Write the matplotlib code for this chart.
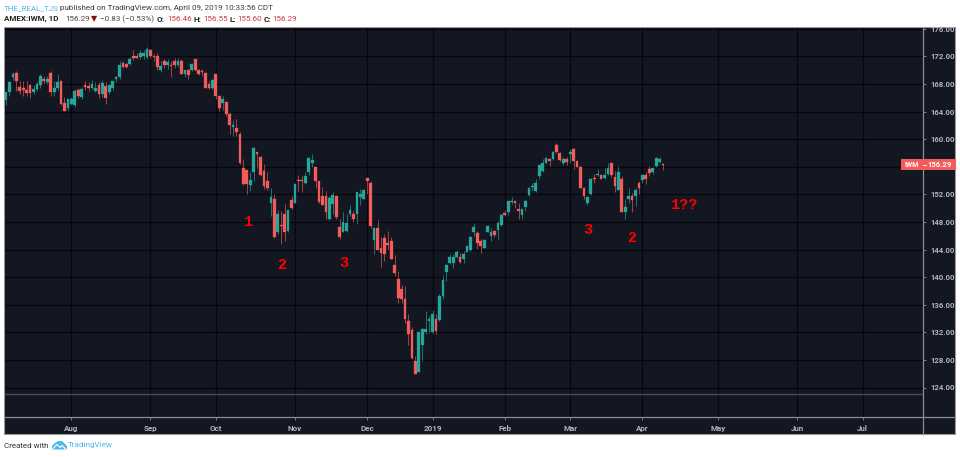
import matplotlib
matplotlib.use('Agg')
import matplotlib.pyplot as plt
from matplotlib.patches import Rectangle, Polygon

# prix, une bougie par seance
opens = [165.7, 166.9, 169.0, 169.6, 167.6, 167.4, 167.1, 167.8, 166.8, 167.3,
         167.8, 168.8, 168.3, 169.6, 166.8, 167.4, 168.5, 165.2, 164.5, 165.1,
         164.9, 167.2, 166.1, 167.9, 167.7, 167.4, 167.0, 167.8, 166.6, 167.7,
         166.8, 167.4, 168.8, 169.0, 171.0, 170.9, 170.9, 172.1, 172.0, 171.9,
         172.0, 171.9, 172.9, 172.1, 172.1, 170.1, 171.3, 170.7, 170.7, 171.3,
         170.7, 171.4, 169.5, 170.0, 170.0, 171.6, 170.0, 169.8, 169.6, 168.0,
         167.4, 169.4, 166.2, 165.2, 165.4, 163.7, 161.8, 161.6, 160.8, 155.8,
         155.5, 153.3, 155.2, 158.2, 157.4, 155.4, 154.0, 150.8, 151.4, 146.6,
         147.6, 149.1, 146.7, 151.2, 150.8, 154.1, 154.0, 153.6, 155.3, 156.6,
         156.0, 154.0, 151.7, 151.7, 148.4, 150.6, 151.7, 147.3, 146.6, 146.7,
         149.2, 149.1, 149.2, 151.6, 151.4, 154.4, 153.7, 145.4, 147.1, 144.2,
         145.7, 145.0, 145.3, 141.7, 139.8, 138.3, 136.9, 133.7, 132.4, 127.8,
         126.3, 130.2, 132.0, 133.7, 132.1, 134.0, 133.8, 137.3, 140.8, 142.1,
         142.0, 142.9, 142.9, 142.6, 143.7, 143.9, 146.5, 146.4, 145.3, 144.3,
         146.6, 145.9, 146.7, 146.9, 147.5, 149.3, 149.4, 150.9, 151.0, 149.9,
         149.0, 150.2, 151.9, 153.1, 152.5, 154.7, 155.4, 156.6, 157.1, 157.2,
         159.1, 158.0, 156.5, 157.1, 157.8, 158.6, 156.9, 156.0, 153.0, 150.7,
         152.0, 154.4, 154.8, 154.8, 154.4, 154.9, 156.5, 154.5, 152.7, 154.3,
         149.5, 151.4, 151.8, 151.7, 153.7, 154.1, 154.8, 155.7, 155.2, 156.1,
         156.7, 156.46]
closes = [166.8, 168.3, 169.4, 168.4, 167.0, 167.1, 166.7, 166.7, 167.3, 168.0,
          169.2, 168.4, 168.8, 166.8, 167.4, 168.3, 165.1, 164.1, 165.8, 165.8,
          167.0, 166.3, 167.3, 167.6, 167.5, 168.0, 167.4, 166.5, 168.1, 166.0,
          167.8, 168.4, 169.0, 170.8, 170.5, 170.5, 171.7, 171.8, 171.8, 172.5,
          172.5, 173.1, 172.1, 171.9, 170.5, 170.6, 170.7, 171.2, 170.6, 170.7,
          171.4, 169.5, 170.0, 169.3, 170.9, 170.0, 169.4, 169.7, 167.5, 167.5,
          168.6, 166.2, 164.5, 165.9, 163.6, 162.1, 162.1, 161.1, 156.5, 153.5,
          153.5, 154.1, 158.7, 157.8, 154.8, 153.2, 153.0, 151.6, 145.8, 149.1,
          147.4, 146.6, 149.7, 150.0, 153.5, 154.0, 153.9, 154.7, 157.3, 157.0,
          154.0, 150.9, 150.5, 149.4, 151.5, 151.9, 148.7, 145.8, 148.0, 147.9,
          149.8, 148.5, 152.3, 152.0, 152.6, 154.0, 147.4, 147.2, 144.0, 143.5,
          143.3, 144.7, 142.7, 140.6, 137.0, 136.8, 133.9, 131.8, 128.3, 125.9,
          132.0, 132.5, 132.5, 134.0, 134.7, 132.2, 137.3, 139.6, 141.7, 142.9,
          142.9, 143.7, 142.2, 143.4, 144.5, 145.8, 147.3, 144.9, 144.5, 145.4,
          147.4, 146.6, 146.1, 147.9, 149.0, 149.0, 151.0, 151.0, 150.8, 149.6,
          149.9, 151.1, 153.0, 153.2, 153.7, 156.2, 156.5, 157.3, 156.8, 158.1,
          158.1, 157.0, 157.2, 156.7, 158.2, 156.8, 156.0, 153.0, 151.7, 151.6,
          154.3, 154.3, 155.0, 154.3, 154.8, 155.8, 154.8, 153.2, 155.3, 149.5,
          150.2, 151.8, 151.2, 152.7, 153.0, 154.8, 154.2, 155.1, 155.9, 157.3,
          157.1, 156.29]
highs = [166.9, 168.5, 169.7, 169.9, 168.5, 168.5, 168.5, 168.0, 167.9, 168.3,
         169.4, 169.2, 169.2, 169.9, 168.5, 169.4, 168.6, 166.1, 165.9, 166.1,
         167.3, 167.4, 167.6, 168.5, 168.3, 168.6, 168.3, 168.3, 168.6, 168.3,
         168.0, 168.5, 169.1, 171.4, 171.3, 171.0, 171.9, 172.9, 172.5, 172.9,
         173.0, 173.4, 173.1, 172.4, 172.5, 171.4, 171.7, 171.6, 171.3, 171.8,
         171.8, 171.6, 169.8, 170.2, 171.1, 171.7, 170.2, 170.2, 169.7, 168.4,
         168.7, 169.5, 166.3, 166.3, 165.5, 163.9, 162.8, 162.9, 161.0, 157.2,
         155.6, 155.3, 158.9, 158.2, 157.5, 156.4, 155.2, 152.9, 152.0, 149.7,
         149.6, 150.6, 149.8, 151.8, 153.6, 154.8, 154.7, 155.2, 157.4, 157.9,
         156.0, 154.0, 153.1, 152.5, 151.7, 152.3, 151.9, 148.5, 149.4, 149.2,
         150.5, 149.6, 152.4, 152.8, 152.7, 154.4, 154.0, 147.3, 148.3, 145.8,
         146.2, 146.7, 145.8, 143.2, 140.9, 138.8, 138.7, 134.6, 132.8, 128.5,
         132.1, 132.6, 135.1, 134.4, 135.2, 134.7, 137.6, 140.3, 141.9, 143.3,
         143.3, 144.0, 143.5, 143.8, 144.7, 145.9, 147.9, 146.7, 145.5, 145.5,
         147.6, 147.2, 146.8, 148.2, 149.2, 149.7, 151.1, 151.6, 151.1, 150.7,
         149.9, 151.2, 153.1, 153.7, 154.3, 156.4, 157.1, 157.4, 157.3, 158.3,
         159.4, 158.1, 157.4, 157.4, 158.6, 158.8, 156.9, 156.1, 153.1, 151.7,
         154.4, 155.0, 155.7, 154.9, 155.9, 156.5, 156.6, 155.4, 156.1, 154.6,
         151.3, 152.9, 152.2, 153.0, 154.0, 154.9, 155.2, 156.1, 156.0, 157.4,
         157.4, 156.55]
lows = [164.9, 166.3, 168.6, 167.0, 166.6, 166.3, 166.3, 166.0, 166.6, 167.0,
        167.5, 168.0, 168.0, 166.3, 166.3, 167.2, 164.9, 164.1, 164.2, 164.9,
        164.7, 166.0, 165.9, 167.2, 167.0, 167.3, 166.8, 166.0, 166.1, 165.1,
        166.6, 167.2, 168.3, 168.8, 170.3, 170.3, 170.8, 171.5, 171.6, 171.7,
        171.7, 171.7, 171.8, 171.3, 170.1, 169.7, 170.4, 170.2, 169.0, 170.3,
        170.5, 169.4, 169.0, 168.7, 169.9, 169.9, 169.3, 169.2, 167.4, 167.3,
        167.3, 165.9, 164.1, 164.2, 163.4, 160.7, 160.5, 160.5, 156.4, 153.4,
        152.0, 152.5, 154.0, 155.9, 154.7, 152.8, 152.6, 148.9, 145.7, 146.3,
        144.8, 145.2, 146.5, 149.9, 150.8, 152.5, 152.4, 153.5, 154.8, 156.0,
        153.0, 150.8, 150.4, 148.5, 148.3, 149.2, 148.5, 145.6, 146.5, 146.6,
        148.8, 148.0, 147.7, 150.5, 151.3, 152.0, 147.1, 143.4, 143.9, 141.5,
        142.4, 144.0, 142.6, 140.1, 136.2, 136.3, 133.3, 130.2, 128.2, 125.9,
        126.2, 127.9, 131.8, 131.9, 131.7, 131.8, 133.6, 136.8, 139.5, 141.9,
        141.4, 142.8, 142.1, 142.0, 143.6, 143.8, 145.9, 144.1, 143.5, 144.2,
        146.5, 145.3, 145.8, 145.4, 147.4, 148.8, 149.0, 150.6, 150.1, 148.4,
        148.5, 149.6, 151.8, 152.6, 152.4, 154.3, 155.3, 156.5, 156.1, 157.0,
        158.0, 156.9, 156.2, 156.3, 156.6, 155.7, 156.0, 152.9, 151.4, 150.5,
        151.9, 153.7, 154.7, 154.2, 154.3, 154.8, 154.5, 152.4, 152.6, 149.4,
        148.4, 150.7, 149.5, 150.3, 152.0, 153.7, 153.5, 154.7, 155.0, 156.0,
        156.6, 155.6]

price_ticks = [124, 128, 132, 136, 140, 144, 148, 152, 156, 160, 164, 168, 172, 176]
month_labels = ['Aug', 'Sep', 'Oct', 'Nov', 'Dec', '2019', 'Feb', 'Mar', 'Apr', 'May', 'Jun', 'Jul']
month_bars = [19, 42, 61, 84, 105, 124, 145, 164, 185, 207, 230, 249]

last_price = closes[-1]
W, H = 960, 457
bg = '#131722'
up = '#26a69a'
down = '#f45b5b'
axis_grey = '#8a8d96'
label_grey = '#b2b5be'
tv_blue = '#4fb6e9'
hdr_size = 5.8

plt.rcParams['font.family'] = ['Roboto', 'DejaVu Sans']


def fx(x):
    return x / W


def fy(y):
    return 1 - y / H


fig = plt.figure(figsize=(W / 100, H / 100), dpi=100, facecolor='white')

# fond sombre du widget, bordure grise
fig.add_artist(Rectangle((fx(4), fy(434)), 951 / W, 407 / H, transform=fig.transFigure,
                         fc=bg, ec='#9a9a9a', lw=0.8, zorder=-1))

ax = fig.add_axes([fx(4.5), fy(417), (923 - 4.5) / W, (417 - 28) / H])
ax.set_facecolor(bg)
ax.set_xlim((4.5 - 6) / 3.44, (923 - 6) / 3.44)
ax.set_ylim(124 - 29.5 / 6.896, 124 + 359.5 / 6.896)
for s in ['top', 'left']:
    ax.spines[s].set_visible(False)
ax.spines['right'].set_color(axis_grey)
ax.spines['bottom'].set_color(axis_grey)
ax.spines['right'].set_linewidth(0.9)
ax.spines['bottom'].set_linewidth(0.9)

# axe des prix prolonge jusqu'au bas du cadre
fig.add_artist(plt.Line2D([fx(923), fx(923)], [fy(417), fy(434)], color=axis_grey, lw=0.9))
fig.add_artist(plt.Line2D([fx(923), fx(955)], [fy(417), fy(417)], color=axis_grey, lw=0.9))

# 156.00 est cache par l'etiquette du dernier cours
ax.set_yticks(price_ticks)
ax.set_yticklabels(['' if p == 156 else '%.2f' % p for p in price_ticks], fontsize=5.6, color=label_grey,
                   fontweight='bold')
ax.yaxis.tick_right()
ax.tick_params(axis='y', length=2.5, width=0.6, color=axis_grey, pad=3)
ax.set_xticks(month_bars)
ax.set_xticklabels(month_labels, fontsize=5.8, color=label_grey, fontweight='bold')
ax.tick_params(axis='x', length=2, width=0.6, color=axis_grey, pad=3.5)
ax.grid(True, color='#05070c', lw=0.9)
ax.set_axisbelow(True)

# separation des panneaux
ax.axhline(123.05, color='#4a4d55', lw=1.0, zorder=1)

for i in range(len(opens)):
    col = up if closes[i] >= opens[i] else down
    ax.vlines(i, lows[i], highs[i], color=col, lw=0.7, alpha=0.65, zorder=2)
    ax.add_patch(Rectangle((i - 0.4, min(opens[i], closes[i])), 0.8,
                           max(abs(closes[i] - opens[i]), 0.15),
                           fc=col, ec=col, lw=0.2, zorder=3))

# etiquette du dernier cours
fig.add_artist(Rectangle((fx(901), fy(170)), 55 / W, 11 / H, transform=fig.transFigure,
                         fc=down, ec='none', zorder=5))
fig.text(fx(911.5), fy(164.8), 'IWM', fontsize=5, color='white', ha='center', va='center',
         fontweight='bold', zorder=6)
fig.text(fx(939.5), fy(164.8), '%.2f' % last_price, fontsize=5.6, color='white', ha='center', va='center',
         fontweight='bold', zorder=6)
fig.add_artist(plt.Line2D([fx(923), fx(926)], [fy(164.8), fy(164.8)], color='white', lw=0.6, zorder=6))

# annotations a la main
red_notes = [('1', 248, 222), ('2', 282, 265), ('3', 344, 263), ('3', 588, 230), ('2', 632, 238), ('1??', 685, 205)]
for txt, px, py in red_notes:
    fig.text(fx(px), fy(py), txt, color='#ff0000', fontsize=11, family='Liberation Mono',
             fontweight='bold', ha='center', va='center', zorder=6)

# en-tete
hy1, hy2 = 8, 19
fig.text(fx(4), fy(hy1), 'THE_REAL_TJS', color=tv_blue, fontsize=hdr_size, va='center')
fig.text(fx(60), fy(hy1), 'published on TradingView.com, April 09, 2019 10:33:56 CDT', color='#3c3c3c',
         fontsize=hdr_size, va='center')
fig.text(fx(4), fy(hy2), 'AMEX:IWM, 1D', color='#222222', fontsize=hdr_size, va='center', fontweight='bold')
fig.text(fx(65), fy(hy2), '%.2f' % last_price, color='#444444', fontsize=hdr_size, va='center')
fig.text(fx(91), fy(hy2), '\u25bc', color='#8b0d0d', fontsize=hdr_size, va='center', family='DejaVu Sans')
fig.text(fx(100), fy(hy2), '\u22120.83 (\u22120.53%)', color='#444444', fontsize=hdr_size, va='center')
ohlc_x = [(157, 'O:', 167, '156.46'), (193, 'H:', 203, '156.55'), (230, 'L:', 237, '155.60'), (264, 'C:', 272, '156.29')]
for x1, lab, x2, val in ohlc_x:
    fig.text(fx(x1), fy(hy2), lab, color='#222222', fontsize=hdr_size, va='center', fontweight='bold')
    fig.text(fx(x2), fy(hy2), val, color='#c8383c', fontsize=hdr_size, va='center')

# pied de page
fig.text(fx(4), fy(445.5), 'Created with', color='#333333', fontsize=hdr_size, va='center')
fig.text(fx(68), fy(445.5), 'TradingView', color=tv_blue, fontsize=5.9, va='center')
logo = [(52, 449.5), (52, 446), (55, 443), (58, 441), (62, 441), (65, 444), (67, 446), (67, 449.5)]
fig.add_artist(Polygon([(fx(a), fy(b)) for a, b in logo], transform=fig.transFigure, fc=tv_blue, ec='none'))
zig = [(53, 448.5), (57, 444.5), (60, 447.5), (62, 445.5), (66, 449.5)]
fig.add_artist(plt.Line2D([fx(a) for a, b in zig], [fy(b) for a, b in zig], color='white', lw=0.8))

fig.savefig('out.png', dpi=100, facecolor='white')
